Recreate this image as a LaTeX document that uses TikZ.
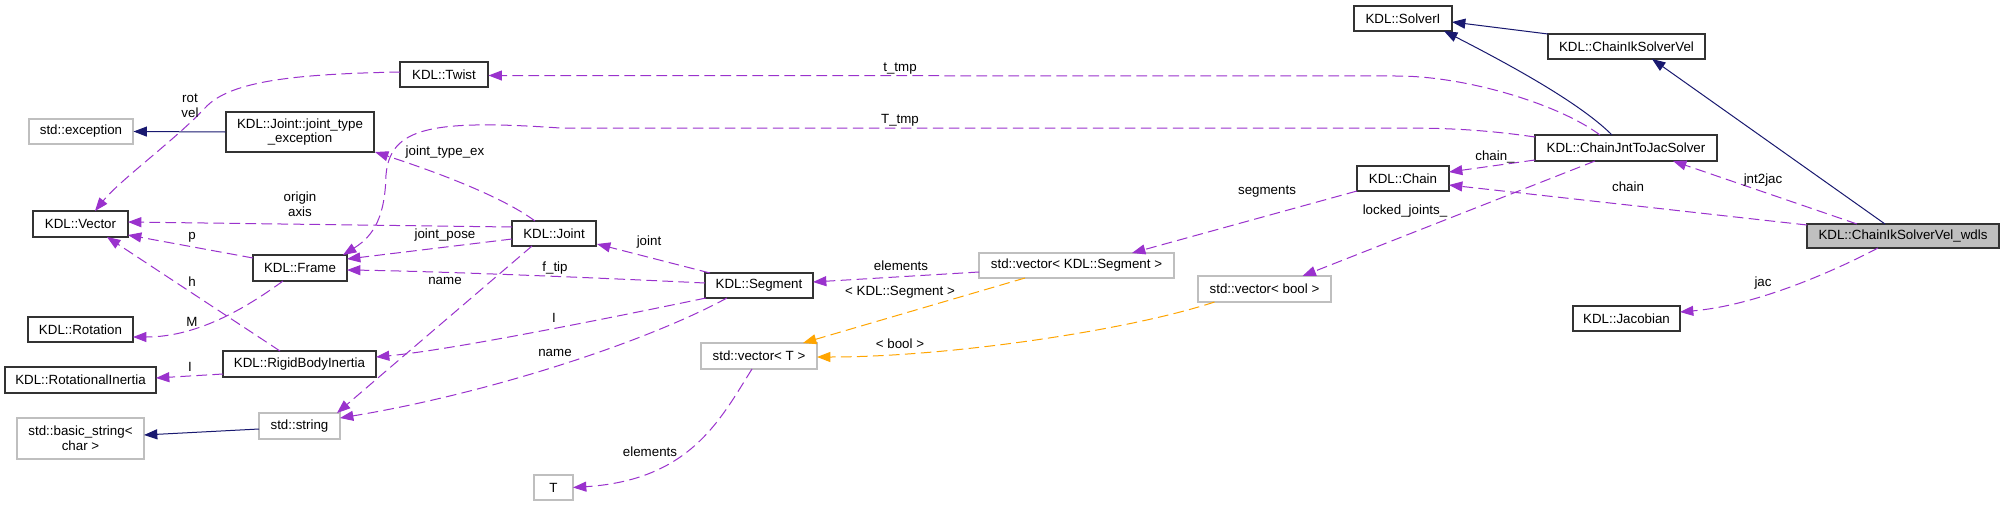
\documentclass[tikz,border=0pt]{standalone}
\usepackage{fontspec}
\setmainfont{Liberation Sans}
\usetikzlibrary{arrows.meta,calc}
\definecolor{dorchid}{RGB}{154,50,205}
\definecolor{navyb}{RGB}{25,25,112}
\definecolor{orng}{RGB}{255,165,0}
\definecolor{boxgray}{RGB}{191,191,191}
\begin{document}
\begin{tikzpicture}[x=0.75pt,y=-0.75pt,
  every node/.style={font=\fontsize{10}{11}\selectfont},
  box/.style={draw=black!80, line width=0.8pt, fill=white, inner sep=0pt, align=center},
  gbox/.style={draw=boxgray, line width=0.8pt, fill=white, inner sep=0pt, align=center},
  sz/.style 2 args={minimum width=#1*0.75pt, minimum height=#2*0.75pt},
  mem/.style={draw=dorchid, line width=0.75pt, dash pattern=on 8pt off 4pt, -{Triangle[length=10pt,width=7.5pt]}},
  tmpl/.style={draw=orng, line width=0.75pt, dash pattern=on 8pt off 4pt, -{Triangle[length=10pt,width=7.5pt]}},
  inh/.style={draw=navyb, line width=0.75pt, -{Triangle[length=10pt,width=7.5pt]}},
  lbl/.style={inner sep=0pt, align=center}]
\useasboundingbox (0,0) rectangle (2004,507);
\fill[white] (0,0) rectangle (2004,507);

% nodes
\node[box, sz={88}{25}] (twist) at (444,74.5) {KDL::Twist};
\node[gbox, sz={104}{25}] (exc) at (81,131.5) {std::exception};
\node[box, sz={148}{40}] (jte) at (300,132) {KDL::Joint::joint\_type\\\_exception};
\node[box, sz={95}{26}] (vector) at (80.5,224) {KDL::Vector};
\node[box, sz={94}{26}] (frame) at (300,268) {KDL::Frame};
\node[box, sz={105}{25}] (rotation) at (80.5,329.5) {KDL::Rotation};
\node[box, sz={153}{26}] (rbi) at (299.5,364) {KDL::RigidBodyInertia};
\node[box, sz={151}{26}] (rotin) at (80.5,380) {KDL::RotationalInertia};
\node[gbox, sz={127}{41}] (bstr) at (80.5,438.5) {std::basic\_string<\\char >};
\node[gbox, sz={81}{26}] (str) at (299.5,426) {std::string};
\node[box, sz={84}{25}] (joint) at (554,233.5) {KDL::Joint};
\node[box, sz={108}{25}] (segment) at (759,285.5) {KDL::Segment};
\node[gbox, sz={116}{26}] (vecT) at (759,356) {std::vector< T >};
\node[gbox, sz={39}{25}] (T) at (553.5,487.5) {T};
\node[gbox, sz={195}{25}] (vecSeg) at (1076.5,265.5) {std::vector< KDL::Segment >};
\node[gbox, sz={133}{26}] (vecBool) at (1264.5,289) {std::vector< bool >};
\node[box, sz={98}{25}] (solver) at (1403,18.5) {KDL::SolverI};
\node[box, sz={92}{25}] (chain) at (1403,178.5) {KDL::Chain};
\node[box, sz={182}{26}] (cjtj) at (1626,148) {KDL::ChainJntToJacSolver};
\node[box, fill=boxgray, sz={192}{24}] (wdls) at (1903,236) {KDL::ChainIkSolverVel\_wdls};
\node[box, sz={107}{25}] (jac) at (1626.5,318.5) {KDL::Jacobian};
\node[box, sz={157}{25}] (ikvel) at (1626.5,46.5) {KDL::ChainIkSolverVel};

% inheritance
\draw[inh] ($(wdls)+(-18,-12)$) -- ($(ikvel)+(25.5,12.5)$);
\draw[inh] ($(ikvel)+(-78.5,-12.5)$) -- ($(solver)+(49,3.5)$);
\draw[inh] ($(cjtj)+(-14,-13)$) .. controls (1585,108) and (1530,75) .. ($(solver)+(41,12.5)$);
\draw[inh] ($(str)+(-40.5,3)$) -- ($(bstr)+(63.5,-3.5)$);
\draw[inh] (jte.west) -- (exc.east);

% usage
\draw[mem] ($(cjtj)+(-26,-13)$) .. controls (1560,105) and (1470,77) .. (1400,76) -- ($(twist.east)+(0,1)$);
\node[lbl] (l1) at (900,69) {t\_tmp};
\draw[mem] ($(cjtj)+(-91,-11)$) .. controls (1480,129) and (1440,128) .. (1400,128) -- (560,128) .. controls (430,119) and (390,128) .. (386,175) .. controls (385,215) and (375,235) .. ($(frame)+(43,-13)$);
\node[lbl] (l2) at (900,120) {T\_tmp};
\draw[mem] ($(cjtj)+(-91,12)$) -- ($(chain)+(46,-6.5)$);
\node[lbl] (l3) at (1495,157) {chain\_};
\draw[mem] ($(cjtj)+(-31,13)$) -- ($(vecBool)+(38,-13)$);
\node[lbl] (l4) at (1405,211) {locked\_joints\_};
\draw[mem] ($(wdls)+(-46,-12)$) -- ($(cjtj)+(47,13)$);
\node[lbl] (l5) at (1763,180) {jnt2jac};
\draw[mem] ($(wdls)+(-96,-11)$) -- ($(chain)+(46,6.5)$);
\node[lbl] (l6) at (1628,187) {chain};
\draw[mem] ($(wdls)+(-25,12)$) .. controls (1840,268) and (1760,305) .. ($(jac)+(53.5,-6.5)$);
\node[lbl] (l7) at (1763,283) {jac};
\draw[mem] ($(chain)+(-46,12.5)$) -- ($(vecSeg)+(55.5,-12.5)$);
\node[lbl] (l8) at (1267,192) {segments};
\draw[tmpl] ($(vecSeg)+(-51.5,12.5)$) -- ($(vecT)+(44,-13)$);
\node[lbl] (l9) at (900,292) {< KDL::Segment >};
\draw[tmpl] ($(vecBool)+(-50,13)$) .. controls (1130,330) and (950,357) .. ($(vecT)+(58,1)$);
\node[lbl] (l10) at (900,344) {< bool >};
\draw[mem] ($(vecSeg)+(-97.5,6.5)$) -- ($(segment)+(54,-3.5)$);
\node[lbl] (l11) at (901,266) {elements};
\draw[mem] ($(vecT)+(-7,13)$) .. controls (720,420) and (690,480) .. ($(T)+(19.5,0)$);
\node[lbl] (l12) at (650,452) {elements};
\draw[mem] ($(segment)+(-49,-12.5)$) -- ($(joint)+(43,10.5)$);
\node[lbl] (l13) at (649,242) {joint};
\draw[mem] ($(segment)+(-54,-2.5)$) .. controls (560,276) and (420,271) .. ($(frame)+(47,2)$);
\node[lbl] (l14) at (555,268) {f\_tip};
\draw[mem] ($(segment)+(-53,12.5)$) .. controls (600,320) and (450,350) .. ($(rbi)+(76.5,-7)$);
\node[lbl] (l15) at (554,318) {I};
\draw[mem] ($(segment)+(-32,12.5)$) .. controls (640,345) and (480,395) .. ($(str)+(40.5,-8)$);
\node[lbl] (l16) at (555,353) {name};
\draw[mem] ($(joint)+(-22,12.5)$) -- ($(str)+(37.5,-13)$);
\node[lbl] (l17) at (445,281) {name};
\draw[mem] ($(joint)+(-42,5.5)$) -- ($(frame)+(47,-9)$);
\node[lbl] (l18) at (445,235) {joint\_pose};
\draw[mem] ($(joint)+(-42,-6.5)$) -- ($(vector)+(47.5,-2)$);
\node[lbl] (l19) at (300,204) {origin\\axis};
\draw[mem] ($(joint)+(-19,-12.5)$) .. controls (500,195) and (430,170) .. ($(jte)+(75,20)$);
\node[lbl] (l20) at (445,152) {joint\_type\_ex};
\draw[mem] ($(frame)+(-47,-10)$) -- ($(vector)+(47.5,11)$);
\node[lbl] (l21) at (192,237) {p};
\draw[mem] ($(frame)+(-17,13)$) .. controls (250,305) and (200,337) .. ($(rotation)+(52.5,7.5)$);
\node[lbl] (l22) at (192,322) {M};
\draw[mem] ($(rbi)+(-19.5,-13)$) -- ($(vector)+(26.5,13)$);
\node[lbl] (l23) at (192,282) {h};
\draw[mem] ($(rbi)+(-76.5,10)$) -- ($(rotin)+(75.5,-2)$);
\node[lbl] (l24) at (190,367) {I};
\draw[mem] ($(twist)+(-44,-2.5)$) .. controls (300,74) and (230,80) .. (205,108) .. controls (175,140) and (120,180) .. ($(vector)+(14.5,-13)$);
\node[lbl] (l25) at (190,106) {rot\\vel};
\end{tikzpicture}
\end{document}
